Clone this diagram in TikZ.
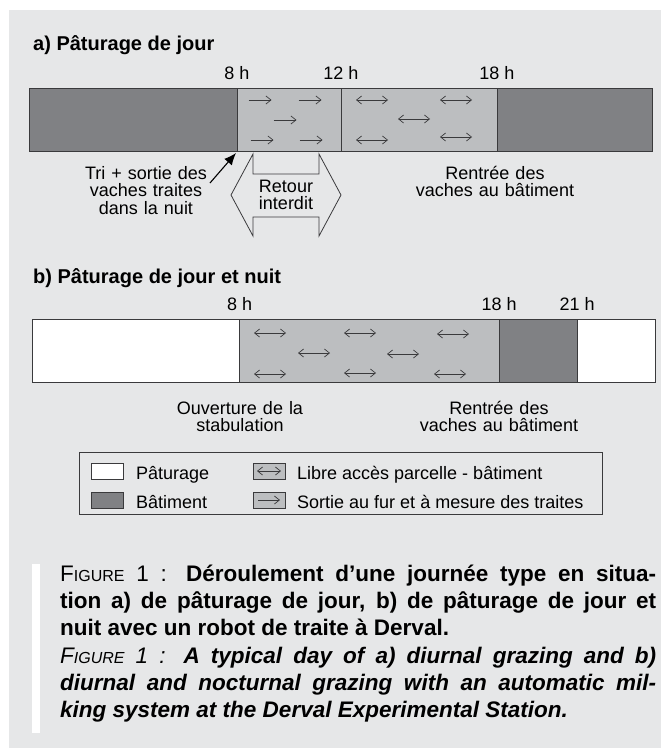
\documentclass[tikz,border=0pt]{standalone}
\usepackage{fontspec}
\setmainfont{Liberation Sans}
\usetikzlibrary{arrows.meta}
\definecolor{panel}{HTML}{E6E7E8}
\definecolor{batgray}{HTML}{808184}
\definecolor{accgray}{HTML}{BCBEC0}
\definecolor{ink}{HTML}{3A3A3C}
\tikzset{
  seg/.style= {draw=ink, line width=1, inner sep=0, outer sep=0, minimum height=63, anchor=north west},
  bat/.style= {seg, fill=batgray},
  pat/.style= {seg, fill=white},
  acc/.style= {seg, fill=accgray},
  head/.style= {font=\fontsize{20}{22}\selectfont\bfseries, anchor=base west, inner sep=0},
  hour/.style= {font=\fontsize{18}{18}\selectfont, anchor=base, inner sep=0},
  note/.style= {font=\fontsize{18}{17.5}\selectfont, text width=170, align=center, anchor=base, inner sep=0},
  key/.style= {draw=ink, line width=0.8, inner sep=0, outer sep=0, minimum width=32, minimum height=16, anchor=north west},
  keytext/.style= {font=\fontsize{18}{18}\selectfont, anchor=base west, inner sep=0},
  go/.style= {ink, line width=0.7, -{Straight Barb[length=5,width=8]}},
  free/.style= {ink, line width=0.7, {Straight Barb[length=5,width=8]}-{Straight Barb[length=5,width=8]}},
  point/.style= {black, line width=1.1, -{Latex[length=12,width=10]}},
}
\newcommand{\figword}{F{\fontsize{16}{27}\selectfont IGURE}}

\begin{document}
\begin{tikzpicture}[x=1pt, y=-1pt]
  \useasboundingbox (0,0) rectangle (661,755);
  \fill[panel] (9,10) rectangle (661,748);

  % a) day grazing
  \node[head] (ta) at (33,50) {a) Pâturage de jour};
  \node[bat, minimum width=208] (a1) at (29,88) {};
  \node[acc, minimum width=104] (a2) at (a1.north east) {};
  \node[acc, minimum width=156] (a3) at (a2.north east) {};
  \node[bat, minimum width=155] (a4) at (a3.north east) {};
  \node[hour] (ha8) at ([yshift=9]a2.north west) {8 h};
  \node[hour] (ha12) at ([yshift=9]a3.north west) {12 h};
  \node[hour] (ha18) at ([yshift=9]a4.north west) {18 h};
  \foreach \x/\y in {260/100, 310/100, 285/120, 262/140, 311/140}
    \draw[go] (\x,\y) ++(-11.5,0) -- ++(23,0);
  \foreach \x/\y in {372/100, 456/100, 414/119, 372/140, 456/137}
    \draw[free] (\x,\y) ++(-16,0) -- ++(32,0);

  \node[note] (tri) at (146,179) {Tri + sortie des\\vaches traites\\dans la nuit};
  \coordinate (trifoot) at (210,183);
  \coordinate (coin) at (236,153);
  \draw[point] (trifoot) -- (coin);

  \draw[ink, line width=0.8] (253,174) -- (253,154) -- (231,195) -- (253,236) -- (253,217)
    -- (319,217) -- (319,236) -- (341,195) -- (319,154) -- (319,174) -- cycle;
  \node[note] (retour) at (286,192) {Retour\\interdit};
  \node[note] (rentrea) at (495,179) {Rentrée des\\vaches au bâtiment};

  % b) day and night grazing
  \node[head] (tb) at (33,283) {b) Pâturage de jour et nuit};
  \node[pat, minimum width=207.7] (b1) at (32,319) {};
  \node[acc, minimum width=259.5] (b2) at (b1.north east) {};
  \node[bat, minimum width=78] (b3) at (b2.north east) {};
  \node[pat, minimum width=78] (b4) at (b3.north east) {};
  \node[hour] (hb8) at ([yshift=9]b2.north west) {8 h};
  \node[hour] (hb18) at ([yshift=9]b3.north west) {18 h};
  \node[hour] (hb21) at ([yshift=9]b4.north west) {21 h};
  \foreach \x/\y in {270/333, 360/333, 453/334, 314/353, 403/354, 270/374, 360/373, 450/374}
    \draw[free] (\x,\y) ++(-16,0) -- ++(32,0);

  \node[note] (ouv) at (240,414) {Ouverture de la\\stabulation};
  \node[note] (rentreb) at (499,414) {Rentrée des\\vaches au bâtiment};

  % legend
  \draw[ink, line width=0.8] (79,452) rectangle (602,514);
  \node[key, fill=white] (kpat) at (91,463) {};
  \node[key, fill=batgray] (kbat) at (91,492) {};
  \node[key, fill=accgray] (kfree) at (253,463) {};
  \node[key, fill=accgray] (kgo) at (253,492) {};
  \draw[free] ([xshift=4]kfree.west) -- ([xshift=-4]kfree.east);
  \draw[go] ([xshift=5]kgo.west) -- ([xshift=-5]kgo.east);
  \node[keytext] (tpat) at ([xshift=13]kpat.south east) {Pâturage};
  \node[keytext] (tbat) at ([xshift=13]kbat.south east) {Bâtiment};
  \node[keytext] (tfree) at ([xshift=12]kfree.south east) {Libre accès parcelle - bâtiment};
  \node[keytext] (tgo) at ([xshift=12]kgo.south east) {Sortie au fur et à mesure des traites};

  % caption
  \fill[white] (32,564) rectangle (40,733);
  \node[anchor=base west, text width=596, align=justify, inner sep=0,
        font=\fontsize{22.5}{27}\selectfont\bfseries] (cap) at (60,581)
    {\setlength{\parskip}{1.5pt}%
     {\mdseries\figword{} 1 :} Déroulement d’une journée type en situa-\linebreak
     tion a) de pâturage de jour, b) de pâturage de jour et\linebreak
     nuit avec un robot de traite à Derval.\par
     \itshape{\mdseries\figword{} 1 :} A typical day of a) diurnal grazing and b)\linebreak
     diurnal and nocturnal grazing with an automatic mil-\linebreak
     king system at the Derval Experimental Station.};
\end{tikzpicture}
\end{document}
